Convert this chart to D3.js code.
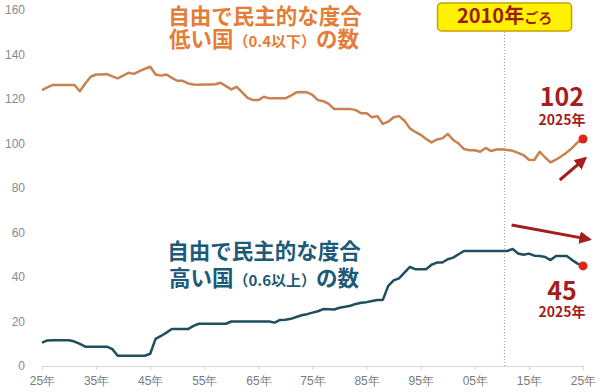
<!DOCTYPE html>
<html lang="ja">
<head>
<meta charset="utf-8">
<script src="https://cdn.jsdelivr.net/npm/d3@7"></script>
<style>
  body { margin: 0; background: #fff; }
  svg { display: block; font-family: "Noto Sans CJK JP", "Noto Sans", sans-serif; }
</style>
</head>
<body>
<svg id="chart" width="600" height="392"></svg>
<script>
// 1925 .. 2025, one value per year
const startYear = 1925;
const endYear = 2025;
const years = d3.range(startYear, endYear + 1);

// number of countries with a low freedom/democracy score (<= 0.4)
const lowCountries = [
  124, 125.2, 126.3, 126.3, 126.3, 126.3, 126.3, 123.5, 127, 130,
  131, 131, 131.2, 130.2, 129.3, 130.5, 131.8, 131.3, 132.5, 133.5,
  134.5, 131, 130.5, 131, 129.5, 128.2, 128.2, 127, 126.5, 126.4,
  126.5, 126.5, 126.6, 127.3, 125.8, 124.3, 125.5, 123, 120.5, 119.5,
  119.5, 121, 120.3, 120.3, 120.3, 120.3, 121.5, 123, 123.2, 123,
  121.8, 119.5, 119, 117.8, 115.5, 115.5, 115.5, 115.5, 115, 113.6,
  113.6, 111.8, 112.3, 108.8, 109.8, 111.8, 112.3, 110.2, 106.8, 105.2,
  103.9, 102, 100.5, 101.8, 102.3, 104.3, 101.6, 100, 97.5, 97,
  97, 96.3, 98, 96.6, 97.3, 97.4, 97.1, 96.7, 95.8, 94.8,
  92.7, 92.6, 96.3, 93.7, 91.5, 92.7, 94.3, 96, 98, 100.5,
  102
];

// number of countries with a high score (>= 0.6)
const highCountries = [
  10.5, 11.5, 11.6, 11.6, 11.6, 11.6, 11, 9.9, 8.7, 8.7,
  8.7, 8.7, 8.7, 7.6, 4.6, 4.6, 4.6, 4.6, 4.6, 4.6,
  5.5, 12.2, 13.5, 15, 16.6, 16.6, 16.6, 16.6, 18, 19,
  19, 19, 19, 19, 19, 20, 20, 20, 20, 20,
  20, 20, 20, 19.5, 20.7, 20.8, 21.2, 22, 22.8, 23.3,
  24, 24.6, 25.6, 25.5, 25.4, 26.2, 26.6, 27.1, 27.9, 28.4,
  28.7, 29.2, 29.7, 29.7, 36, 38.5, 39.4, 42, 44.5, 43.5,
  43.5, 43.5, 45.5, 46.5, 46.5, 48, 48.7, 50.2, 51.7, 51.7,
  51.7, 51.7, 51.7, 51.7, 51.7, 51.7, 51.7, 52.6, 50.6, 50,
  50.5, 49.6, 49.4, 49, 47.6, 49.4, 49.4, 49.4, 47.6, 46,
  45
];

const yTicks = [0, 20, 40, 60, 80, 100, 120, 140, 160];
const xTicks = [1925, 1935, 1945, 1955, 1965, 1975, 1985, 1995, 2005, 2015, 2025];

const markerYear = 2010.5;
const markerText = '2010年';
const markerSuffix = 'ごろ';

// trend arrows, in [year, value] pairs
const arrowUp = [[2020.7, 83.6], [2025.4, 93.3]];
const arrowDown = [[2011.8, 63.4], [2026.2, 56.9]];

const lowColor = '#c9824f';
const highColor = '#1f4e5f';
const lowTitleColor = '#e47d38';
const highTitleColor = '#1b5a79';
const accent = '#a51d1d';

const svg = d3.select('#chart');

const x = d3.scaleLinear().domain([startYear, endYear]).range([42, 583]);
const y = d3.scaleLinear().domain([0, 160]).range([366, 10]);

// y axis: labels only
svg.append('g')
  .attr('transform', 'translate(28,0)')
  .call(d3.axisLeft(y).tickValues(yTicks).tickSize(0).tickPadding(3))
  .call(g => g.select('.domain').remove())
  .call(g => g.selectAll('text')
    .attr('fill', '#8a8a8a')
    .style('font-size', '12px'));

// x axis
svg.append('g')
  .attr('transform', `translate(0,${y(0)})`)
  .call(d3.axisBottom(x)
    .tickValues(xTicks)
    .tickSizeInner(4)
    .tickSizeOuter(0)
    .tickPadding(6)
    .tickFormat(d => String(d % 100).padStart(2, '0') + '年'))
  .call(g => g.select('.domain').attr('stroke', '#d6d6d6'))
  .call(g => g.selectAll('.tick line').attr('stroke', '#d6d6d6'))
  .call(g => g.selectAll('text')
    .attr('fill', '#7a7a7a')
    .style('font-size', '12px'));

// marker for ~2010
const mx = x(markerYear);
svg.append('line')
  .attr('x1', mx).attr('x2', mx)
  .attr('y1', 32).attr('y2', y(0))
  .attr('stroke', '#97a4b8')
  .attr('stroke-width', 1)
  .attr('stroke-dasharray', '1,2');

svg.append('rect')
  .attr('x', mx - 67).attr('y', 3)
  .attr('width', 134).attr('height', 28)
  .attr('rx', 4)
  .attr('fill', '#fff200')
  .attr('stroke', '#c9a100')
  .attr('stroke-width', 1.5);

const mt = svg.append('text')
  .attr('x', mx).attr('y', 17)
  .attr('dy', '0.36em')
  .attr('text-anchor', 'middle')
  .attr('fill', '#9c1b1b')
  .attr('font-weight', 'bold');
mt.append('tspan').style('font-size', '20px').text(markerText);
mt.append('tspan').style('font-size', '14px').text(markerSuffix);

// lines
const line = d3.line()
  .x((d, i) => x(years[i]))
  .y(d => y(d));

svg.append('path')
  .datum(lowCountries)
  .attr('fill', 'none')
  .attr('stroke', lowColor)
  .attr('stroke-width', 2.5)
  .attr('stroke-linejoin', 'round')
  .attr('d', line);

svg.append('path')
  .datum(highCountries)
  .attr('fill', 'none')
  .attr('stroke', highColor)
  .attr('stroke-width', 2.5)
  .attr('stroke-linejoin', 'round')
  .attr('d', line);

// titles
function title(cx, cy, parts, color) {
  const t = svg.append('text')
    .attr('x', cx).attr('y', cy)
    .attr('dy', '0.36em')
    .attr('text-anchor', 'middle')
    .attr('fill', color)
    .attr('font-weight', 'bold')
    .attr('stroke', '#fff')
    .attr('stroke-width', 4)
    .attr('stroke-linejoin', 'round')
    .attr('paint-order', 'stroke');
  parts.forEach(p => t.append('tspan').style('font-size', p[1] + 'px').text(p[0]));
}

title(265, 18, [['自由で民主的な度合', 21.5]], lowTitleColor);
title(264, 41, [['低い国', 21.5], ['（0.4以下）', 15], ['の数', 21.5]], lowTitleColor);
title(264, 253, [['自由で民主的な度合', 21.5]], highTitleColor);
title(264, 280, [['高い国', 21.5], ['（0.6以上）', 15], ['の数', 21.5]], highTitleColor);

// end points and labels
const last = years.length - 1;
const ends = [
  { v: lowCountries[last], labelY: -42, yearY: -19 },
  { v: highCountries[last], labelY: 25, yearY: 46 }
];

ends.forEach(e => {
  const px = x(years[last]), py = y(e.v);
  svg.append('circle')
    .attr('cx', px).attr('cy', py).attr('r', 4.5)
    .attr('fill', '#e0231f');
  svg.append('text')
    .attr('x', px - 21).attr('y', py + e.labelY)
    .attr('dy', '0.36em')
    .attr('text-anchor', 'middle')
    .attr('fill', accent)
    .attr('font-weight', 'bold')
    .style('font-size', '25px')
    .text(e.v);
  svg.append('text')
    .attr('x', px - 21).attr('y', py + e.yearY)
    .attr('dy', '0.36em')
    .attr('text-anchor', 'middle')
    .attr('fill', accent)
    .attr('font-weight', 'bold')
    .style('font-size', '14px')
    .text(endYear + '年');
});

// arrows
svg.append('defs').append('marker')
  .attr('id', 'head')
  .attr('viewBox', '0 0 10 10')
  .attr('refX', 8).attr('refY', 5)
  .attr('markerWidth', 4.2).attr('markerHeight', 4.2)
  .attr('orient', 'auto')
  .append('path')
  .attr('d', 'M0,0L10,5L0,10Z')
  .attr('fill', accent);

[arrowUp, arrowDown].forEach(a => {
  svg.append('line')
    .attr('x1', x(a[0][0])).attr('y1', y(a[0][1]))
    .attr('x2', x(a[1][0])).attr('y2', y(a[1][1]))
    .attr('stroke', accent)
    .attr('stroke-width', 3)
    .attr('marker-end', 'url(#head)');
});
</script>
</body>
</html>
